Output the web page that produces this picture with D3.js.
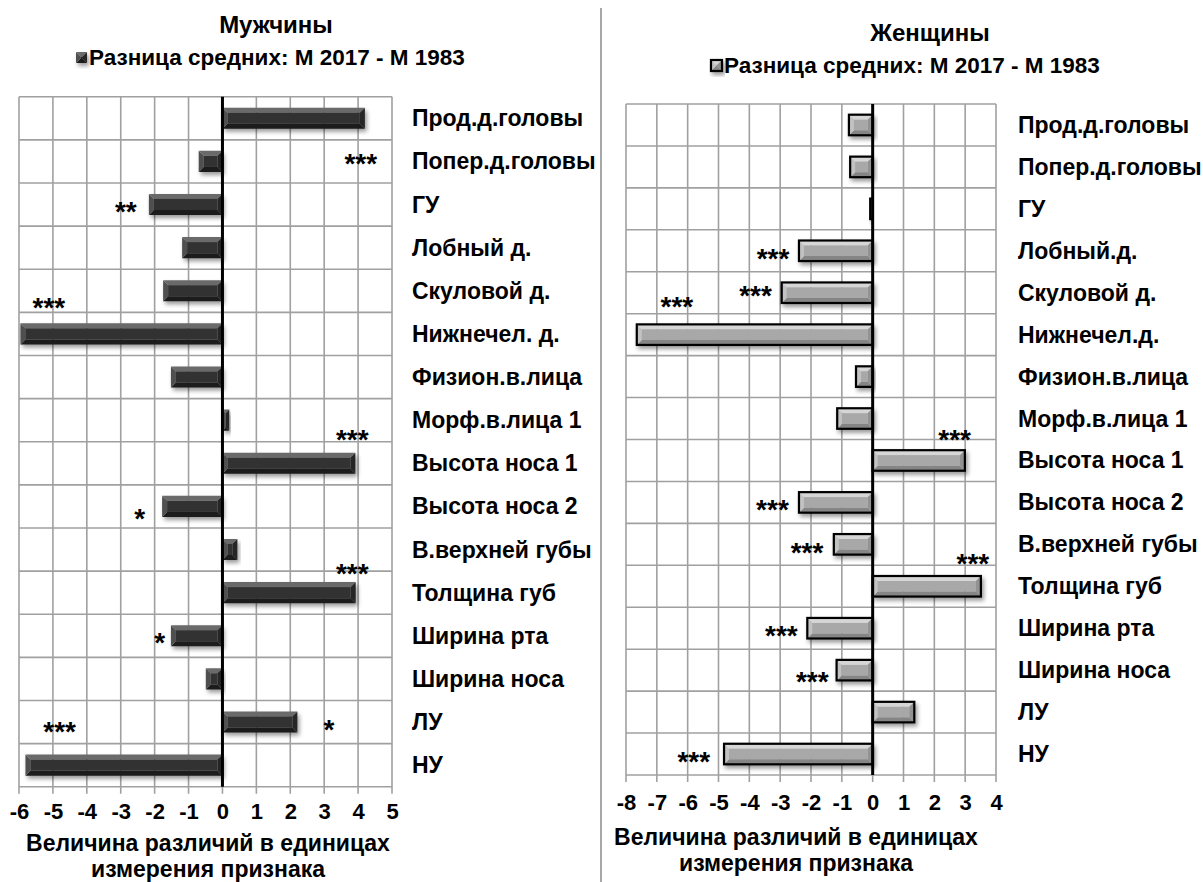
<!DOCTYPE html>
<html>
<head>
<meta charset="utf-8">
<script src="https://cdn.jsdelivr.net/npm/d3@7"></script>
<style>
  body { margin: 0; background: #fff; }
  text { font-family: "Liberation Sans", Arial, sans-serif; }
</style>
</head>
<body>
<svg id="canvas" width="1203" height="882"></svg>
<script>
"use strict";

// === Data ===
let menCategories = ["Прод.д.головы", "Попер.д.головы", "ГУ", "Лобный д.", "Скуловой д.", "Нижнечел. д.",
  "Физион.в.лица", "Морф.в.лица 1", "Высота носа 1", "Высота носа 2", "В.верхней губы", "Толщина губ",
  "Ширина рта", "Ширина носа", "ЛУ", "НУ"];
let womenCategories = ["Прод.д.головы", "Попер.д.головы", "ГУ", "Лобный.д.", "Скуловой д.", "Нижнечел.д.",
  "Физион.в.лица", "Морф.в.лица 1", "Высота носа 1", "Высота носа 2", "В.верхней губы", "Толщина губ",
  "Ширина рта", "Ширина носа", "ЛУ", "НУ"];

let menDiff = [4.2, -0.7, -2.17, -1.19, -1.75, -5.96, -1.52, 0.2, 3.92, -1.78, 0.44, 3.93, -1.52, -0.49, 2.21, -5.81];
let womenDiff = [-0.77, -0.73, -0.08, -2.39, -2.95, -7.65, -0.54, -1.15, 2.99, -2.39, -1.26, 3.51, -2.12, -1.17, 1.35, -4.82];

let menTicks = [-6, -5, -4, -3, -2, -1, 0, 1, 2, 3, 4, 5];
let womenTicks = [-8, -7, -6, -5, -4, -3, -2, -1, 0, 1, 2, 3, 4];

// significance marks: category, x value where the mark sits, mark, shift in rows
let menStars = [
  { cat: "Прод.д.головы", at: 4.08, mark: "***", shift: 0.9 },
  { cat: "ГУ", at: -2.85, mark: "**", shift: 0 },
  { cat: "Нижнечел. д.", at: -5.12, mark: "***", shift: -0.77 },
  { cat: "Высота носа 1", at: 3.83, mark: "***", shift: -0.7 },
  { cat: "Высота носа 2", at: -2.44, mark: "*", shift: 0.13 },
  { cat: "Толщина губ", at: 3.83, mark: "***", shift: -0.6 },
  { cat: "Ширина рта", at: -1.85, mark: "*", shift: 0 },
  { cat: "ЛУ", at: 3.14, mark: "*", shift: 0.03 },
  { cat: "НУ", at: -4.8, mark: "***", shift: -0.92 }
];
let womenStars = [
  { cat: "Лобный.д.", at: -3.23, mark: "***", shift: 0.04 },
  { cat: "Скуловой д.", at: -3.8, mark: "***", shift: -0.08 },
  { cat: "Нижнечел.д.", at: -6.35, mark: "***", shift: -0.83 },
  { cat: "Высота носа 1", at: 2.66, mark: "***", shift: -0.65 },
  { cat: "Высота носа 2", at: -3.25, mark: "***", shift: 0.02 },
  { cat: "В.верхней губы", at: -2.13, mark: "***", shift: 0.05 },
  { cat: "Толщина губ", at: 3.25, mark: "***", shift: -0.71 },
  { cat: "Ширина рта", at: -2.96, mark: "***", shift: 0.02 },
  { cat: "Ширина носа", at: -1.96, mark: "***", shift: 0.11 },
  { cat: "НУ", at: -5.8, mark: "***", shift: 0.02 }
];

let legendText = "Разница средних: М 2017 - М 1983";
let axisTitle = ["Величина различий в единицах", "измерения признака"];

// === Styles for the two bar looks ===
let darkLook = { top: "#6a6a6a", body: "#333333", bottom: "#1c1c1c", left: "#505050", right: "#262626", stroke: "none" };
let greyLook = { top: "#d6d6d6", body: "#a8a8a8", bottom: "#858585", left: "#c2c2c2", right: "#929292", stroke: "#000" };

let svg = d3.select("#canvas");
svg.append("rect").attr("width", 1203).attr("height", 882).attr("fill", "#fff");

let defs = svg.append("defs");
defs.append("filter").attr("id", "shadow")
  .attr("x", "-10%").attr("y", "-30%").attr("width", "130%").attr("height", "180%")
  .append("feDropShadow")
  .attr("dx", 2).attr("dy", 3).attr("stdDeviation", 2)
  .attr("flood-color", "#000").attr("flood-opacity", 0.4);

// === Helper: bevelled box like the Excel bars ===
function bevelBox(g, x0, x1, y0, y1, look) {
  let b = Math.min(5, (x1 - x0) / 2, (y1 - y0) / 2);
  let box = g.append("g").attr("filter", "url(#shadow)");
  let poly = (pts, fill) => box.append("polygon")
    .attr("points", pts.map(p => p.join(",")).join(" "))
    .attr("fill", fill);
  poly([[x0, y0], [x1, y0], [x1 - b, y0 + b], [x0 + b, y0 + b]], look.top);
  poly([[x0, y1], [x1, y1], [x1 - b, y1 - b], [x0 + b, y1 - b]], look.bottom);
  poly([[x0, y0], [x0 + b, y0 + b], [x0 + b, y1 - b], [x0, y1]], look.left);
  poly([[x1, y0], [x1 - b, y0 + b], [x1 - b, y1 - b], [x1, y1]], look.right);
  box.append("rect")
    .attr("x", x0 + b).attr("y", y0 + b)
    .attr("width", Math.max(0, x1 - x0 - 2 * b)).attr("height", Math.max(0, y1 - y0 - 2 * b))
    .attr("fill", look.body);
  if (look.stroke !== "none") {
    box.append("rect")
      .attr("x", x0).attr("y", y0).attr("width", x1 - x0).attr("height", y1 - y0)
      .attr("fill", "none").attr("stroke", look.stroke).attr("stroke-width", 2.2);
  }
}

// === Draw one panel ===
function drawPanel(p) {
  let g = svg.append("g");
  let x = d3.scaleLinear().domain(d3.extent(p.ticks)).range([p.left, p.right]);
  let y = d3.scaleBand().domain(p.categories).range([p.top, p.bottom]).padding(0);
  let bw = y.bandwidth();

  // title + legend
  g.append("text").attr("x", p.titleX).attr("y", p.titleY)
    .attr("text-anchor", "middle").attr("font-size", 24).attr("font-weight", "bold")
    .text(p.title);
  bevelBox(g, p.legendX, p.legendX + 11, p.legendY - 13, p.legendY - 2, p.look);
  g.append("text").attr("x", p.legendX + 13).attr("y", p.legendY)
    .attr("font-size", 22.5).attr("font-weight", "bold").text(legendText);

  // grid
  g.selectAll(".vgrid").data(p.ticks).enter().append("line")
    .attr("x1", d => x(d)).attr("x2", d => x(d))
    .attr("y1", p.top).attr("y2", p.bottom + 7)
    .attr("stroke", "#a0a0a0").attr("stroke-width", 1.6);
  let rows = p.categories.map(c => y(c)).concat([p.bottom]);
  g.selectAll(".hgrid").data(rows).enter().append("line")
    .attr("x1", p.left).attr("x2", p.right)
    .attr("y1", d => d).attr("y2", d => d)
    .attr("stroke", "#a0a0a0").attr("stroke-width", 1.6);

  // axis labels (plain hyphen minus, as in the original)
  let axis = d3.axisBottom(x).tickValues(p.ticks).tickSize(0).tickPadding(0).tickFormat(d => String(d));
  let ax = g.append("g").attr("transform", `translate(0,${p.bottom})`).call(axis);
  ax.select(".domain").remove();
  ax.selectAll("text")
    .attr("y", p.tickLabelDy).attr("dy", null)
    .attr("font-size", 22).attr("font-weight", "bold").attr("fill", "#000")
    .style("font-family", "'Liberation Sans', Arial, sans-serif");

  // bars
  p.values.forEach((v, i) => {
    let cy = y(p.categories[i]) + bw / 2;
    let h = bw * 0.49;
    let x0 = x(Math.min(0, v)), x1 = x(Math.max(0, v));
    bevelBox(g, x0, x1, cy - h / 2, cy + h / 2, p.look);
  });

  // zero line
  g.append("line").attr("x1", x(0)).attr("x2", x(0))
    .attr("y1", p.top).attr("y2", p.bottom)
    .attr("stroke", "#000").attr("stroke-width", 3);

  // category labels
  g.selectAll(".cat").data(p.categories).enter().append("text")
    .attr("x", p.labelX).attr("y", d => y(d) + bw / 2 + 8)
    .attr("font-size", 23).attr("font-weight", "bold")
    .text(d => d);

  // significance marks
  g.selectAll(".star").data(p.stars).enter().append("text")
    .attr("x", d => x(d.at))
    .attr("y", d => y(d.cat) + bw / 2 + d.shift * bw + 16)
    .attr("text-anchor", "middle").attr("font-size", 28).attr("font-weight", "bold")
    .text(d => d.mark);

  // axis title
  axisTitle.forEach((t, i) => {
    g.append("text").attr("x", p.axisTitleX).attr("y", p.axisTitleY + i * 26)
      .attr("text-anchor", "middle").attr("font-size", 23).attr("font-weight", "bold")
      .text(t);
  });
}

drawPanel({
  title: "Мужчины", titleX: 276, titleY: 33,
  legendX: 76, legendY: 65,
  categories: menCategories, values: menDiff, ticks: menTicks, stars: menStars,
  left: 19, right: 392, top: 96.7, bottom: 786.7,
  labelX: 412, tickLabelDy: 32, axisTitleX: 208, axisTitleY: 851,
  look: darkLook
});

drawPanel({
  title: "Женщины", titleX: 930, titleY: 41,
  legendX: 711, legendY: 73,
  categories: womenCategories, values: womenDiff, ticks: womenTicks, stars: womenStars,
  left: 626, right: 996, top: 104, bottom: 775,
  labelX: 1018, tickLabelDy: 35, axisTitleX: 796, axisTitleY: 845,
  look: greyLook
});

// separator between the two panels
svg.append("line").attr("x1", 601).attr("x2", 601).attr("y1", 8).attr("y2", 882)
  .attr("stroke", "#8a8a8a").attr("stroke-width", 1.5);
</script>
</body>
</html>
